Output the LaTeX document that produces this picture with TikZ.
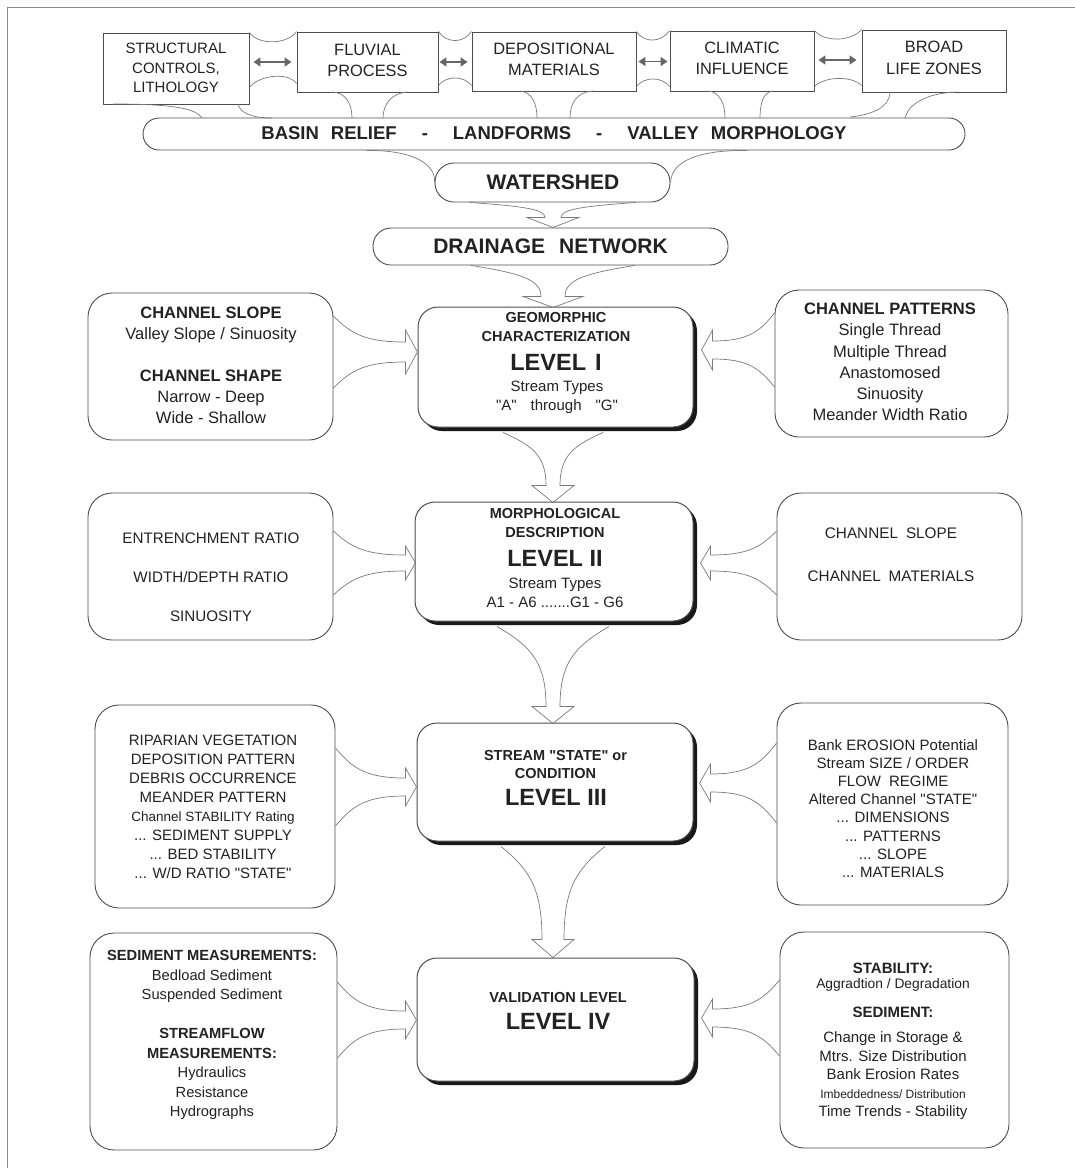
\documentclass[tikz,border=0pt]{standalone}
\usepackage{fontspec}
\setmainfont{Liberation Sans}[Ligatures=TeXOff]
\usetikzlibrary{shadows,arrows.meta}
\definecolor{ink}{HTML}{222222}
\definecolor{edge}{HTML}{4D4D4D}
\definecolor{flow}{HTML}{7A7A7A}
\definecolor{linkgray}{HTML}{666666}
\definecolor{framegray}{HTML}{8A8A8A}
\newcommand\setfs[2]{\fontsize{#1}{#2}\selectfont}
\tikzset{
  flowline/.style={draw=flow, line width=0.7pt},
  topbox/.style={draw=edge, line width=0.9pt, fill=white, inner sep=0pt},
  barbox/.style={draw=edge, line width=0.9pt, fill=white, inner sep=0pt},
  sidebox/.style={draw=edge, line width=0.9pt, rounded corners=24pt, inner sep=0pt},
  levelbox/.style={draw=edge, line width=1pt, fill=white, rounded corners=20pt, inner sep=0pt,
    drop shadow={shadow xshift=4pt, shadow yshift=-4pt, fill=black!90, opacity=1}},
  lbl/.style={text=ink, align=center, inner sep=0pt},
  twoway/.style={draw=linkgray, line width=1.7pt,
    arrows={Triangle[length=7pt,width=9pt]-Triangle[length=7pt,width=9pt]}},
  % hollow funnel arrow: length, half spread at source, half shaft, half head, head depth
  pics/funnel/.style n args={5}{code={
    \draw[flowline] (0,#2)
      .. controls ({0.25*(#1-#5)},{#3+0.3*(#2-#3)}) and ({0.45*(#1-#5)},#3) .. ({#1-#5},#3)
      -- ({#1-#5},#4) -- (#1,0) -- ({#1-#5},-#4) -- ({#1-#5},-#3)
      .. controls ({0.45*(#1-#5)},-#3) and ({0.25*(#1-#5)},{-#3-0.3*(#2-#3)}) .. (0,-#2);
  }},
}
\begin{document}
\begin{tikzpicture}[x=1pt,y=1pt]
\useasboundingbox (0,0) rectangle (1075,-1168);
\fill[white] (0,0) rectangle (1075,-1168);
\draw[framegray, line width=0.8pt] (7,-1168) -- (7,-7) -- (1075,-7);

% ---------- top row of controlling factors ----------
\node[topbox, minimum width=146pt, minimum height=71pt] (b1) at (176,-68.5) {};
\node[lbl, font=\setfs{15}{19.5}] (b1t) at (176,-68) {STRUCTURAL\\CONTROLS,\\LITHOLOGY};
\node[topbox, minimum width=141pt, minimum height=60pt] (b2) at (367.5,-62) {};
\node[lbl, font=\setfs{16.4}{21}] (b2t) at (367.5,-60.5) {FLUVIAL\\PROCESS};
\node[topbox, minimum width=164pt, minimum height=59pt] (b3) at (554,-61.5) {};
\node[lbl, font=\setfs{16.4}{21}] (b3t) at (554,-59.5) {DEPOSITIONAL\\MATERIALS};
\node[topbox, minimum width=144pt, minimum height=60pt] (b4) at (742,-61) {};
\node[lbl, font=\setfs{16.4}{21}] (b4t) at (742,-58.5) {CLIMATIC\\INFLUENCE};
\node[topbox, minimum width=144pt, minimum height=62pt] (b5) at (934,-61) {};
\node[lbl, font=\setfs{16.4}{22}] (b5t) at (934,-58) {BROAD\\LIFE ZONES};

% waists between neighbouring boxes
\draw[flowline] (b1.north east) .. controls +(9,-13) and +(-9,-13) .. (b2.north west);
\draw[flowline] ([yshift=17pt]b1.south east) .. controls +(9,12) and +(-9,12) .. ([yshift=9pt]b2.south west);
\draw[flowline] (b2.north east) .. controls +(8,-12) and +(-8,-12) .. (b3.north west);
\draw[flowline] ([yshift=7pt]b2.south east) .. controls +(8,10) and +(-8,10) .. ([yshift=6pt]b3.south west);
\draw[flowline] (b3.north east) .. controls +(8,-12) and +(-8,-12) .. (b4.north west);
\draw[flowline] ([yshift=5pt]b3.south east) .. controls +(8,10) and +(-8,10) .. ([yshift=5pt]b4.south west);
\draw[flowline] (b4.north east) .. controls +(10,-12) and +(-10,-12) .. (b5.north west);
\draw[flowline] ([yshift=5pt]b4.south east) .. controls +(10,10) and +(-10,10) .. ([yshift=7pt]b5.south west);

% two-way links
\draw[twoway, shorten <=4pt, shorten >=5pt] (b1.east |- b2.west) -- (b2.west);
\draw[twoway, shorten <=1pt, shorten >=4pt] (b2.east) -- (b3.west |- b2.east);
\draw[twoway, shorten <=2pt, shorten >=2pt] (b3.east) -- (b4.west |- b3.east);
\draw[twoway, shorten <=4pt, shorten >=5pt] (b4.east |- 0,-60) -- (b5.west |- 0,-60);

% ---------- basin relief bar ----------
\node[barbox, rounded corners=16pt, minimum width=822pt, minimum height=32pt] (basin) at (554,-134) {};
\node[lbl, font=\bfseries\setfs{18.5}{22}] (basint) at (554,-133.5)
  {BASIN\hspace{12pt}RELIEF\hspace{25pt}-\hspace{25pt}LANDFORMS\hspace{25pt}-\hspace{25pt}VALLEY\hspace{12pt}MORPHOLOGY};

% necks from the factor boxes into the bar
\draw[flowline] (113,-104) .. controls (170,-104) and (196,-108) .. (202,-118);
\draw[flowline] (238,-104) .. controls (240,-113) and (252,-118) .. (272,-118);
\draw[flowline] (333,-92) .. controls (346,-93) and (352,-104) .. (352,-118);
\draw[flowline] (407,-92) .. controls (392,-93) and (383,-104) .. (383,-118);
\draw[flowline] (520,-91) .. controls (532,-92) and (537,-104) .. (537,-118);
\draw[flowline] (593,-91) .. controls (576,-92) and (570,-104) .. (570,-118);
\draw[flowline] (708,-91) .. controls (720,-92) and (725,-104) .. (725,-118);
\draw[flowline] (773,-91) .. controls (763,-92) and (760,-104) .. (760,-118);
\draw[flowline] (890,-92) .. controls (890,-108) and (870,-115) .. (850,-117);
\draw[flowline] (957,-92) .. controls (925,-93) and (908,-105) .. (905,-118);

% ---------- watershed and drainage network ----------
\node[barbox, rounded corners=19pt, minimum width=235pt, minimum height=39pt] (ws) at (552.5,-182.5) {};
\node[lbl, font=\bfseries\setfs{21}{25}] (wst) at (553,-182.5) {WATERSHED};
\draw[flowline] (basin.south -| 367,0) .. controls (415,-150) and (436,-165) .. (ws.west);
\draw[flowline] (basin.south -| 747,0) .. controls (700,-150) and (672,-160) .. (ws.east);

\node[barbox, rounded corners=18pt, minimum width=355pt, minimum height=37pt] (dn) at (550.5,-246.5) {};
\node[lbl, font=\bfseries\setfs{21}{25}] (dnt) at (550.5,-246.5) {DRAINAGE\hspace{14pt}NETWORK};

\path ([xshift=0.5pt]ws.south) pic[rotate=-90] {funnel={25}{83}{8}{26}{10}};
\path ([xshift=2.5pt]dn.south) pic[rotate=-90] {funnel={42}{82}{12}{30}{11}};

% ---------- level boxes ----------
\node[levelbox, minimum width=275pt, minimum height=120pt] (lv1) at (555.5,-367) {};
\node[lbl, font=\bfseries\setfs{14.5}{19}] (lv1h) at (556,-327.5) {GEOMORPHIC\\CHARACTERIZATION};
\node[lbl, font=\bfseries\setfs{23.5}{28}] (lv1n) at (556,-362) {LEVEL\hspace{9pt}I};
\node[lbl, font=\setfs{15}{19}] (lv1s) at (557,-397.5) {Stream Types\\"A"\hspace{14pt}through\hspace{14pt}"G"};

\node[levelbox, minimum width=278pt, minimum height=119pt] (lv2) at (554,-561.5) {};
\node[lbl, font=\bfseries\setfs{14.5}{19}] (lv2h) at (555,-522.5) {MORPHOLOGICAL\\DESCRIPTION};
\node[lbl, font=\bfseries\setfs{23.5}{28}] (lv2n) at (555,-558) {LEVEL II};
\node[lbl, font=\setfs{15}{19}] (lv2s) at (555,-592.5) {Stream Types\\A1 - A6 .......G1 - G6};

\node[levelbox, minimum width=276pt, minimum height=118pt] (lv3) at (555,-782) {};
\node[lbl, font=\bfseries\setfs{14.5}{18}] (lv3h) at (555.5,-764) {STREAM "STATE" or\\CONDITION};
\node[lbl, font=\bfseries\setfs{23.5}{28}] (lv3n) at (556,-797.5) {LEVEL III};

\node[levelbox, minimum width=277pt, minimum height=123pt] (lv4) at (555.5,-1019.5) {};
\node[lbl, font=\bfseries\setfs{14.5}{19}] (lv4h) at (558,-997) {VALIDATION LEVEL};
\node[lbl, font=\bfseries\setfs{23.5}{28}] (lv4n) at (558,-1021) {LEVEL IV};

\path ([xshift=-2.5pt,yshift=-5pt]lv1.south) pic[rotate=-90] {funnel={70}{50}{7}{21}{17}};
\path ([xshift=-1pt,yshift=-5pt]lv2.south) pic[rotate=-90] {funnel={97}{56}{7}{21}{17}};
\path ([xshift=-2pt,yshift=-5pt]lv3.south) pic[rotate=-90] {funnel={111}{52}{11}{21}{18}};

% ---------- side boxes, left ----------
\node[sidebox, minimum width=245pt, minimum height=147pt] (lb1) at (210.5,-366.5) {};
\node[lbl, font=\setfs{16.5}{21}] (lb1t) at (211,-365)
  {\textbf{CHANNEL SLOPE}\\Valley Slope / Sinuosity\\[21pt]\textbf{CHANNEL SHAPE}\\Narrow - Deep\\Wide - Shallow};

\node[sidebox, minimum width=245pt, minimum height=147pt] (lb2) at (210.5,-566.5) {};
\node[lbl, font=\setfs{15.2}{39}] (lb2t) at (211,-577) {ENTRENCHMENT RATIO\\WIDTH/DEPTH RATIO\\SINUOSITY};

\node[sidebox, minimum width=240pt, minimum height=203pt] (lb3) at (215,-806.5) {};
\node[lbl, font=\setfs{15}{19}] (lb3t) at (213,-806.5)
  {RIPARIAN VEGETATION\\DEPOSITION PATTERN\\DEBRIS OCCURRENCE\\MEANDER PATTERN\\{\setfs{13.5}{19}Channel STABILITY Rating}\\... SEDIMENT SUPPLY\\... BED STABILITY\\... W/D RATIO "STATE"};

\node[sidebox, minimum width=247pt, minimum height=217pt] (lb4) at (213.5,-1041.5) {};
\node[lbl, font=\setfs{14.7}{19.5}] (lb4t) at (212,-1035)
  {\textbf{SEDIMENT MEASUREMENTS:}\\Bedload Sediment\\Suspended Sediment\\[19.5pt]\textbf{STREAMFLOW}\\\textbf{MEASUREMENTS:}\\Hydraulics\\Resistance\\Hydrographs};

% ---------- side boxes, right ----------
\node[sidebox, minimum width=233pt, minimum height=147pt] (rb1) at (891.5,-363.5) {};
\node[lbl, font=\setfs{16.5}{21.2}] (rb1t) at (890,-362)
  {\textbf{CHANNEL PATTERNS}\\Single Thread\\Multiple Thread\\Anastomosed\\Sinuosity\\Meander Width Ratio};

\node[sidebox, minimum width=245pt, minimum height=147pt] (rb2) at (899.5,-566.5) {};
\node[lbl, font=\setfs{15.3}{43}] (rb2t) at (891,-554.5) {CHANNEL\hspace{8pt}SLOPE\\CHANNEL\hspace{8pt}MATERIALS};

\node[sidebox, minimum width=231pt, minimum height=202pt] (rb3) at (892.5,-804) {};
\node[lbl, font=\setfs{15}{18.2}] (rb3t) at (893,-808.5)
  {Bank EROSION Potential\\Stream SIZE / ORDER\\FLOW\hspace{8pt}REGIME\\Altered Channel "STATE"\\... DIMENSIONS\\... PATTERNS\\... SLOPE\\... MATERIALS};

\node[sidebox, minimum width=229pt, minimum height=216pt] (rb4) at (894.5,-1040) {};
\node[lbl, font=\bfseries\setfs{15}{18}] (rb4a) at (893,-968.3) {STABILITY:};
\node[lbl, font=\setfs{13.8}{18}] (rb4b) at (893,-984.5) {Aggradtion / Degradation};
\node[lbl, font=\bfseries\setfs{15}{18}] (rb4c) at (893,-1012.7) {SEDIMENT:};
\node[lbl, font=\setfs{15}{18.5}] (rb4d) at (893,-1076)
  {Change in Storage \&\\Mtrs. Size Distribution\\Bank Erosion Rates\\{\setfs{12}{18.5}Imbeddedness/ Distribution}\\Time Trends - Stability};

% ---------- inputs into each level ----------
\path (lb1.east |- 0,-352) pic {funnel={84}{36}{10}{22}{12}};
\path (rb1.west |- 0,-350) pic[rotate=180] {funnel={73}{37}{9}{20}{11}};
\path (lb2.east |- 0,-563) pic {funnel={82}{32}{8}{17}{10}};
\path (rb2.west |- 0,-563) pic[rotate=180] {funnel={76}{32}{8}{17}{10}};
\path (lb3.east |- 0,-787) pic {funnel={81}{39}{9}{19}{11}};
\path (rb3.west |- 0,-783) pic[rotate=180] {funnel={77}{40}{9}{19}{11}};
\path (lb4.east |- 0,-1020) pic {funnel={79}{38}{9}{19}{11}};
\path (rb4.west |- 0,-1018) pic[rotate=180] {funnel={78}{38}{9}{19}{11}};
\end{tikzpicture}
\end{document}
